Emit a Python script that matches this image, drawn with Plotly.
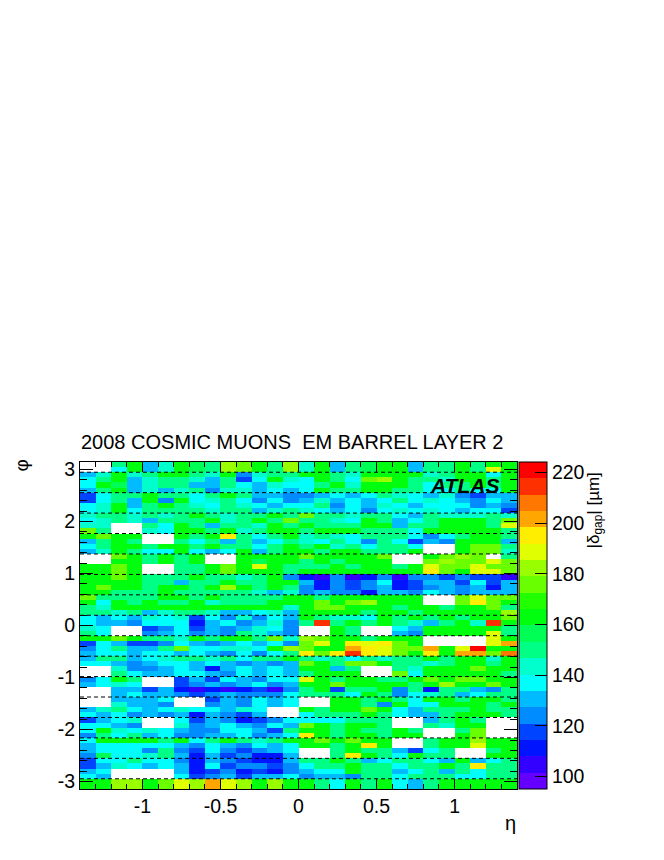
import numpy as np
import colorsys
import plotly.graph_objects as go

# ---------------- data ----------------
eta_edges = np.round(np.linspace(-1.4, 1.4, 29), 3)     # 28 eta bins
phi_edges = np.linspace(-np.pi, np.pi, 65)               # 64 phi bins

z_min, z_max = 95.1, 224.2
n_levels = 20
band_codes = "0123456789ABCDEFGHIJ"   # colour band index, '.' = empty

# rows listed from phi = +pi (top) downwards, 28 eta cells each
rows_phi_positive = [
    "..8A57A98DCA8D" "7A589AA588A8AA",
    "..6A57A98DCA8D" "7A589AA588A8EA",
    "57A78AA87A4788" "AA87AAAA78AA6A",
    "68A578875836A7" "6A86CDA887AA8A",
    "6A957885586576" "68A7AAA8688A8A",
    "58A57578477565" "6A88AA8866866A",
    "3688A8868A8554" "45656876574355",
    "3685A4A6786464" "57565686765465",
    "67A58A87687656" "68465765666454",
    "67A68888788578" "76564676765663",
    "7887878A8788A8" "C8878865877787",
    "67875888A78A8C" "8876A8568AAA8C",
    "77..86A85887A8" "A888AA588AAA8E",
    "C8..76AA8A78AA" "8AAA8886AAAAA8",
    "ACAA..A8AF868A" "78768886468AA8",
    "58A8..86858568" "7686486354AAA5",
    "68AA8AA8A8868A" "8A786886..ACC8",
    "57A866A656A58A" "A8AA888A..ACC7",
    "..CA8A8A..AAAA" "CAAAAC..ACDC.8",
    "..AA8A8A..A9AA" "8A8AAA..CDCCEC",
    "AACA..88ACAEA8" "88A8AA8AECCECC",
    "AACA..88ACAAA8" "AAAAAAAAFCAEEC",
    "AACA888A8878A4" "21412414434331",
    "AAAA88588A88AA" "52434623553635",
    "ACAA8AA8ADA8A8" "42434523454525",
    "AA888A88888757" "45442554654555",
    "C8888AA8A8888A" "A8AAAAAA..CECC",
    "A6A8A88A7888AA" "ACACDAAA..CFCA",
    "87AAAAAAAAAAA7" "ACCAAA8AA8AAC8",
    "88785788755675" "AAAA8AA8AAAAAD",
    "65657673647465" "A8776A8A8A8AAC",
    "65546662564574" "8I8A8A8758A7IA",
]
rows_phi_negative = [
    "76..3463545764" "..A8..65AAAAA8",
    "86..4564548754" "..A8..54AAAAE8",
    "AACA887A8AA8C7" "DCAA8AAA....EA",
    "36533465456564" "CEAFEFCA....EG",
    "468558C66776AD" "CAAGFECCGAEJAA",
    "56656656546468" "FCFIFECAFAGGCH",
    "5885678878688A" "87868788A8AA7A",
    "66545665654545" "CA8CCA8878AA8A",
    "..744565256565" "AA58..87AAACAA",
    "..865566546565" "8AAA..C6AAAAA8",
    "46A8..35365466" "EA8AA88ACACCAA",
    "5676..34545645" "AACAAAA8ADAACA",
    "..553521212314" "8A388A48288548",
    "..565543454446" "8886A846785688",
    "..5556..354656" "..AA8A86AA8AA8",
    "..7554..454656" "..AA84A66AAA8A",
    "578656766576.." "A8AACA65888A88",
    "656454525435.." "6888A86558AAA8",
    "3567..63542346" "666888..58A8..",
    "6654..74565465" "CA8AA8..87AA..",
    "6A767654466538" "AA8A88A8..8C..",
    "48685644556456" "FA8AA8AA..AC..",
    "6AAAA8A68A878A" "ACACAA..8AADAA",
    "56666654654656" "AA8AFA..8AAEAA",
    "56664843643456" "..8A885368..8A",
    "49667852534225" "..8FA86A88..AA",
    "36686642543225" "88A8568865A568",
    "35765652634434" "688A88688A8F88",
    "56....52342324" "566A8856858688",
    "65....63453556" "45548868886688",
    "AADDACEDGEDADA" "A86A8A658AAAAA",
    "AADDACEDGEDADA" "A86A8A658AAAAA",
]

colorbar_ticks = [100, 120, 140, 160, 180, 200, 220]
x_tick_vals = [-1, -0.5, 0, 0.5, 1]
x_tick_text = ["-1", "-0.5", "0", "0.5", "1"]
y_tick_vals = [-3, -2, -1, 0, 1, 2, 3]
y_tick_text = ["-3", "-2", "-1", "0", "1", "2", "3"]
module_edges = [(2 * k + 1) * np.pi / 16 for k in range(-8, 8)]

# ---------------- build ----------------
step = (z_max - z_min) / n_levels
rows = rows_phi_positive + rows_phi_negative
z = []
for row in rows[::-1]:  # bottom (phi=-pi) first
    z.append([None if c == "." else z_min + (band_codes.index(c) + 0.5) * step for c in row])

# ROOT "pretty" palette (50 colours, violet -> red) sampled at 20 contour levels
def root_color(k):
    idx = int((k + 0.99) * 50 / n_levels)
    hue = 280.0 - (idx + 1) * (280.0 / 50)
    r, g, b = colorsys.hls_to_rgb(hue / 360.0, 0.5, 1.0)
    return "rgb(%d,%d,%d)" % (round(r * 255), round(g * 255), round(b * 255))

colorscale = []
for k in range(n_levels):
    c = root_color(k)
    colorscale.append([k / n_levels, c])
    colorscale.append([(k + 1) / n_levels, c])

FONT = "Liberation Sans, Arial, Helvetica, sans-serif"
TS = 19.5

fig = go.Figure(go.Heatmap(
    x=eta_edges, y=phi_edges, z=z, zmin=z_min, zmax=z_max,
    colorscale=colorscale, hoverongaps=False,
    colorbar=dict(
        x=1.0046, xanchor="left", xpad=0, ypad=0,
        y=0.5, yanchor="middle", len=1, lenmode="fraction",
        thickness=28, thicknessmode="pixels",
        outlinewidth=1, outlinecolor="black",
        tickvals=colorbar_ticks, ticks="inside", ticklen=12, tickwidth=1, tickcolor="black",
        tickfont=dict(family=FONT, size=TS, color="black"),
    ),
))

for phi in module_edges:
    fig.add_shape(type="line", xref="x", yref="y", x0=-1.4, x1=1.4, y0=phi, y1=phi,
                  line=dict(color="black", width=1, dash="4px,3px"), layer="above")

axis_common = dict(showgrid=False, zeroline=False, showline=True, linecolor="black", linewidth=1,
                   mirror="ticks", ticks="inside", tickcolor="black", tickwidth=1,
                   tickfont=dict(family=FONT, size=TS, color="black"))

# page body has an 8px margin: figure is 8px smaller and margins shifted accordingly
fig.update_layout(
    width=656, height=852,
    margin=dict(l=72, r=147, t=454, b=71.2, pad=0),
    paper_bgcolor="white", plot_bgcolor="white",
    font=dict(family=FONT, color="black"),
    xaxis=dict(range=[-1.4, 1.4], tickvals=x_tick_vals, ticktext=x_tick_text, ticklen=10,
               minor=dict(dtick=0.1, ticks="inside", ticklen=5, tickcolor="black", showgrid=False),
               **axis_common),
    yaxis=dict(range=[-np.pi, np.pi], tickvals=y_tick_vals, ticktext=y_tick_text, ticklen=13,
               minor=dict(dtick=0.2, ticks="inside", ticklen=7, tickcolor="black", showgrid=False),
               **axis_common),
    showlegend=False,
)

fig.add_annotation(text="2008 COSMIC MUONS&nbsp; EM BARREL LAYER 2", xref="paper", yref="paper",
                   x=-0.003, y=1.060, xanchor="left", yanchor="middle", showarrow=False,
                   font=dict(family=FONT, size=20, color="black"))
fig.add_annotation(text="<b><i>ATLAS</i></b>", xref="x", yref="y", x=1.298, y=2.69,
                   xanchor="right", yanchor="middle", showarrow=False,
                   font=dict(family=FONT, size=21, color="black"))
fig.add_annotation(text="η", xref="paper", yref="paper", x=0.984, y=-0.1025,
                   xanchor="center", yanchor="middle", showarrow=False,
                   font=dict(family=FONT, size=20, color="black"))
fig.add_annotation(text="φ", xref="paper", yref="paper", x=(21 - 80) / 437, y=0.9896,
                   textangle=-90, borderpad=0,
                   xanchor="center", yanchor="middle", showarrow=False,
                   font=dict(family=FONT, size=19, color="black"))
fig.add_annotation(text="|δ<sub>gap</sub>| [µm]", xref="paper", yref="paper",
                   x=(595 - 80) / 437, y=(788.4 - 510) / 326.8, textangle=-90,
                   xanchor="center", yanchor="middle", showarrow=False,
                   font=dict(family=FONT, size=17, color="black"))

fig.write_html("out.html")
